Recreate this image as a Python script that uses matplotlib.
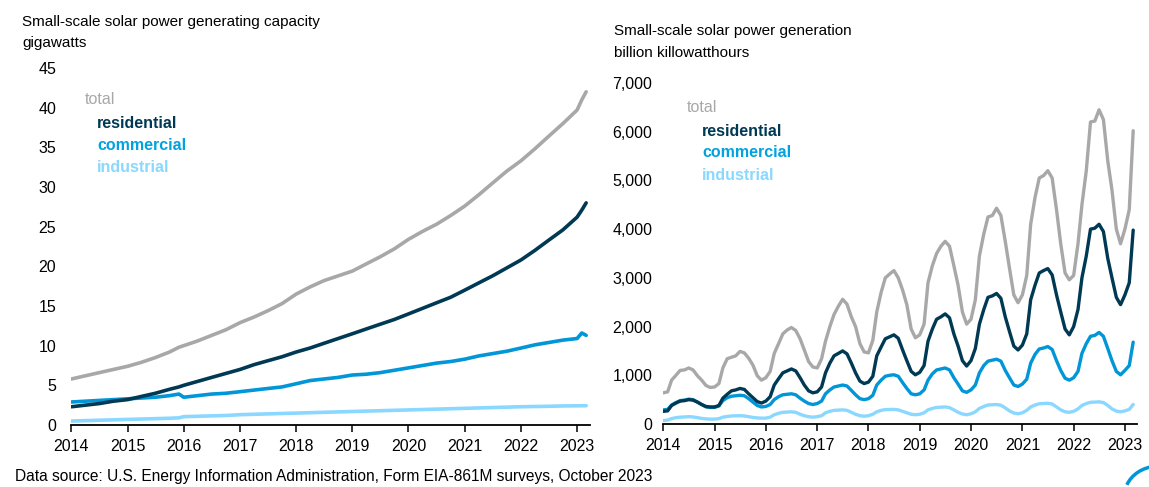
import matplotlib
matplotlib.use("Agg")
import matplotlib.pyplot as plt
import matplotlib.dates as mdates
from matplotlib.ticker import FuncFormatter, MultipleLocator
from matplotlib.patches import Arc
import pandas as pd

plt.rcParams['font.family'] = ['Liberation Sans', 'DejaVu Sans']

# ---------------- data: capacity (gigawatts) ----------------
cap_dates = ["2014-01", "2014-04", "2014-07", "2014-10",
             "2015-01", "2015-04", "2015-07", "2015-10", "2015-12",
             "2016-01", "2016-04", "2016-07", "2016-10",
             "2017-01", "2017-04", "2017-07", "2017-10",
             "2018-01", "2018-04", "2018-07", "2018-10",
             "2019-01", "2019-04", "2019-07", "2019-10",
             "2020-01", "2020-04", "2020-07", "2020-10",
             "2021-01", "2021-04", "2021-07", "2021-10",
             "2022-01", "2022-04", "2022-07", "2022-10",
             "2023-01", "2023-02", "2023-03"]
cap_total = [5.8, 6.2, 6.6, 7.0,
             7.4, 7.9, 8.5, 9.2, 9.8,
             10.0, 10.6, 11.3, 12.0,
             12.9, 13.6, 14.4, 15.3,
             16.5, 17.4, 18.2, 18.8,
             19.4, 20.3, 21.2, 22.2,
             23.4, 24.4, 25.3, 26.4,
             27.6, 29.0, 30.5, 32.0,
             33.3, 34.8, 36.4, 38.0,
             39.7, 41.0, 42.0]
cap_residential = [2.3, 2.5, 2.7, 3.0,
                   3.2, 3.6, 4.0, 4.5, 4.8,
                   5.0, 5.5, 6.0, 6.5,
                   7.0, 7.6, 8.1, 8.6,
                   9.2, 9.7, 10.3, 10.9,
                   11.5, 12.1, 12.7, 13.3,
                   14.0, 14.7, 15.4, 16.1,
                   17.0, 17.9, 18.8, 19.8,
                   20.8, 22.0, 23.3, 24.6,
                   26.2, 27.1, 28.0]
cap_commercial = [2.9, 3.0, 3.1, 3.2,
                  3.3, 3.4, 3.5, 3.7, 3.9,
                  3.5, 3.7, 3.9, 4.0,
                  4.2, 4.4, 4.6, 4.8,
                  5.2, 5.6, 5.8, 6.0,
                  6.3, 6.4, 6.6, 6.9,
                  7.2, 7.5, 7.8, 8.0,
                  8.3, 8.7, 9.0, 9.3,
                  9.7, 10.1, 10.4, 10.7,
                  10.9, 11.6, 11.3]
cap_industrial = [0.5, 0.55, 0.6, 0.65,
                  0.7, 0.75, 0.8, 0.85, 0.9,
                  1.05, 1.1, 1.15, 1.2,
                  1.3, 1.35, 1.4, 1.45,
                  1.5, 1.55, 1.6, 1.65,
                  1.7, 1.75, 1.8, 1.85,
                  1.9, 1.95, 2.0, 2.05,
                  2.1, 2.15, 2.2, 2.25,
                  2.3, 2.33, 2.36, 2.4,
                  2.42, 2.43, 2.43]

# ---------------- data: generation (monthly, Jan 2014 - Mar 2023) ----------------
gen_start = "2014-01"
gen_total = [640, 660, 900, 1000, 1100, 1110, 1150, 1110, 990, 900, 790, 750,
             760, 830, 1150, 1340, 1370, 1400, 1490, 1460, 1350, 1210, 990, 900,
             950, 1080, 1450, 1650, 1850, 1930, 1980, 1920, 1750, 1520, 1280, 1170,
             1150, 1340, 1700, 2000, 2250, 2420, 2560, 2460, 2200, 2000, 1650, 1480,
             1460, 1720, 2300, 2700, 3000, 3080, 3150, 3000, 2750, 2450, 1950, 1770,
             1830, 2050, 2900, 3250, 3500, 3650, 3750, 3650, 3250, 2850, 2300, 2050,
             2150, 2550, 3450, 3900, 4250, 4280, 4430, 4280, 3750, 3200, 2650, 2490,
             2650, 3050, 4100, 4650, 5050, 5100, 5200, 5050, 4400, 3700, 3100, 2960,
             3050, 3700, 4500, 5200, 6200, 6220, 6450, 6250, 5400, 4800, 4000, 3700,
             4000, 4400, 6020]
gen_residential = [260, 270, 380, 430, 470, 480, 500, 490, 450, 400, 360, 350,
                   350, 380, 530, 610, 680, 700, 730, 710, 620, 540, 460, 430,
                   470, 560, 800, 930, 1050, 1090, 1130, 1090, 950, 800, 680, 640,
                   660, 760, 1050, 1250, 1400, 1450, 1500, 1440, 1250, 1050, 880, 830,
                   860, 980, 1400, 1580, 1750, 1790, 1830, 1760, 1520, 1300, 1080, 1010,
                   1060, 1200, 1700, 1950, 2150, 2200, 2260, 2180, 1850, 1600, 1300, 1190,
                   1300, 1550, 2050, 2350, 2600, 2630, 2680, 2580, 2200, 1900, 1600, 1520,
                   1620, 1850, 2550, 2850, 3100, 3150, 3190, 3060, 2650, 2300, 1950, 1830,
                   2000, 2350, 3000, 3450, 4000, 4020, 4100, 3950, 3400, 3000, 2600, 2450,
                   2650, 2900, 3980]
gen_commercial = [290, 300, 390, 440, 480, 490, 510, 500, 450, 400, 350, 340,
                  340, 370, 480, 540, 570, 580, 590, 580, 520, 450, 380, 350,
                  360, 400, 500, 560, 600, 610, 620, 600, 530, 470, 420, 400,
                  420, 470, 620, 700, 760, 780, 800, 780, 690, 600, 520, 500,
                  520, 590, 800, 900, 980, 1000, 1010, 980, 850, 730, 620, 600,
                  620, 700, 900, 1030, 1110, 1130, 1150, 1110, 950, 820, 680, 650,
                  700, 800, 1050, 1200, 1290, 1310, 1330, 1290, 1100, 950, 800, 770,
                  820, 920, 1250, 1430, 1540, 1560, 1590, 1530, 1300, 1100, 940, 900,
                  950, 1080, 1450, 1650, 1800, 1820, 1880, 1800, 1550, 1300, 1080, 1010,
                  1100, 1200, 1680]
gen_industrial = [70, 80, 110, 130, 140, 145, 150, 145, 130, 115, 105, 100,
                  100, 110, 140, 155, 165, 168, 170, 165, 150, 135, 125, 120,
                  120, 140, 190, 220, 240, 245, 250, 240, 200, 170, 150, 140,
                  150, 170, 230, 260, 280, 285, 290, 280, 240, 200, 170, 160,
                  170, 200, 250, 280, 295, 298, 300, 290, 260, 230, 200, 190,
                  200, 230, 290, 320, 340, 345, 350, 335, 290, 240, 205, 190,
                  210, 250, 320, 360, 390, 395, 400, 385, 330, 270, 225, 210,
                  230, 280, 350, 390, 415, 420, 425, 410, 350, 290, 250, 240,
                  260, 310, 380, 420, 445, 450, 455, 440, 380, 310, 265, 250,
                  270, 300, 400]

series_names = ["total", "residential", "commercial", "industrial"]
colors = {"total": "#A8A8A8", "residential": "#003953",
          "commercial": "#0096D7", "industrial": "#8AD8FF"}
label_colors = {"total": "#A8A8A8", "residential": "#003953",
                "commercial": "#00A3E0", "industrial": "#8AD8FF"}

W, H = 1149, 487
fig = plt.figure(figsize=(W / 100, H / 100), dpi=100)


def fx(px):
    return px / W


def fy(py):
    return 1 - py / H


cap_x = pd.to_datetime(cap_dates)
gen_x = pd.date_range(gen_start, periods=len(gen_total), freq="MS")

x_lo = pd.Timestamp("2014-01-01")
x_hi = pd.Timestamp("2023-03-26")

# ---------------- left panel ----------------
ax1 = fig.add_axes([fx(71.4), fy(425), fx(590) - fx(71.4), fy(68) - fy(425)])
for name, vals in [("industrial", cap_industrial), ("commercial", cap_commercial),
                   ("residential", cap_residential), ("total", cap_total)]:
    ax1.plot(cap_x, vals, color=colors[name], lw=2.6, solid_capstyle="round",
             solid_joinstyle="round")
ax1.set_ylim(0, 45)
ax1.yaxis.set_major_locator(MultipleLocator(5))

# ---------------- right panel ----------------
ax2 = fig.add_axes([fx(663.3), fy(424), fx(1136.7) - fx(663.3), fy(83) - fy(424)])
for name, vals in [("industrial", gen_industrial), ("commercial", gen_commercial),
                   ("residential", gen_residential), ("total", gen_total)]:
    ax2.plot(gen_x, vals, color=colors[name], lw=2.4, solid_capstyle="round",
             solid_joinstyle="round")
ax2.set_ylim(0, 7000)
ax2.yaxis.set_major_locator(MultipleLocator(1000))
ax2.yaxis.set_major_formatter(FuncFormatter(lambda v, p: f"{int(v):,}"))

for ax, ypad in [(ax1, 11), (ax2, 8)]:
    ax.set_xlim(x_lo, x_hi)
    ax.xaxis.set_major_locator(mdates.YearLocator())
    ax.xaxis.set_major_formatter(mdates.DateFormatter("%Y"))
    for s in ["top", "right", "left"]:
        ax.spines[s].set_visible(False)
    ax.spines["bottom"].set_linewidth(1.3)
    ax.spines["bottom"].set_color("black")
    ax.tick_params(axis="x", direction="out", length=5, width=1.1, pad=5,
                   labelsize=11.5, colors="black")
    ax.tick_params(axis="y", length=0, pad=ypad, labelsize=11.5, colors="black")
    ax.set_facecolor("none")

# ---------------- texts ----------------
fig.text(fx(22), fy(22), "Small-scale solar power generating capacity",
         fontsize=11, va="center", ha="left")
fig.text(fx(22), fy(43), "gigawatts", fontsize=11, va="center", ha="left")
fig.text(fx(614), fy(31), "Small-scale solar power generation",
         fontsize=11, va="center", ha="left")
fig.text(fx(614), fy(53), "billion killowatthours",
         fontsize=11, va="center", ha="left")

legend_left = [(85, 100), (97, 123), (97, 145), (97, 167)]
legend_right = [(687, 108), (702, 131), (702, 153), (702, 175)]
for pos_list in (legend_left, legend_right):
    for name, (lx, ly) in zip(series_names, pos_list):
        fig.text(fx(lx), fy(ly), name, color=label_colors[name], fontsize=11.5,
                 fontweight="normal" if name == "total" else "bold",
                 va="center", ha="left")

fig.text(fx(15), fy(477),
         "Data source: U.S. Energy Information Administration, Form EIA-861M surveys, October 2023",
         fontsize=11.2, va="center", ha="left")

# partial eia logo swoosh at bottom-right corner
logo_ax = fig.add_axes([fx(1118), fy(487), fx(1149) - fx(1118), fy(455) - fy(487)])
logo_ax.set_xlim(0, 1)
logo_ax.set_ylim(0, 1)
logo_ax.axis("off")
logo_ax.add_patch(Arc((1.3, -0.3), 2.2, 1.9, theta1=95, theta2=160,
                      color="#0096D7", lw=2.5))

fig.savefig("out.png", dpi=100)
